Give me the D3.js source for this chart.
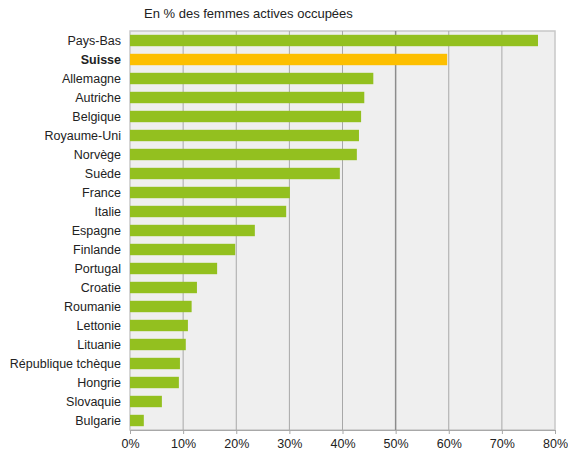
<!DOCTYPE html>
<html>
<head>
<meta charset="utf-8">
<script src="https://cdn.jsdelivr.net/npm/d3@7"></script>
<style>
  body { margin: 0; background: #fff; }
  text { font-family: "Liberation Sans", Arial, sans-serif; fill: #222; }
</style>
</head>
<body>
<div id="chart"></div>
<script>
var countries = ["Pays-Bas", "Suisse", "Allemagne", "Autriche", "Belgique", "Royaume-Uni",
  "Norvège", "Suède", "France", "Italie", "Espagne", "Finlande", "Portugal", "Croatie",
  "Roumanie", "Lettonie", "Lituanie", "République tchèque", "Hongrie", "Slovaquie", "Bulgarie"];
var values = [76.8, 59.7, 45.8, 44.1, 43.5, 43.1, 42.7, 39.5, 30.1, 29.4, 23.5, 19.8, 16.4,
  12.6, 11.6, 10.9, 10.5, 9.4, 9.2, 6.0, 2.6];
var highlight = "Suisse";
var tickValues = [0, 10, 20, 30, 40, 50, 60, 70, 80];
var title = "En % des femmes actives occupées";

var width = 568, height = 452;
var margin = { top: 31, right: 13, bottom: 22, left: 130 };

var svg = d3.select("#chart").append("svg")
  .attr("width", width)
  .attr("height", height);

var x = d3.scaleLinear()
  .domain([0, 80])
  .range([margin.left, width - margin.right]);

var y = d3.scaleBand()
  .domain(countries)
  .range([margin.top, height - margin.bottom])
  .paddingInner(0.4)
  .paddingOuter(0.2);

// plot background
svg.append("rect")
  .attr("x", x(0))
  .attr("y", margin.top)
  .attr("width", x(80) - x(0))
  .attr("height", height - margin.bottom - margin.top)
  .attr("fill", "#efefef")
  .attr("stroke", "#c8c8c8")
  .attr("stroke-width", 1.5);

// gridlines
svg.append("g")
  .selectAll("line")
  .data(tickValues.slice(1, -1))
  .enter()
  .append("line")
    .attr("x1", function(d) { return x(d); })
    .attr("x2", function(d) { return x(d); })
    .attr("y1", margin.top)
    .attr("y2", height - margin.bottom)
    .attr("stroke", function(d) { return d === 50 ? "#8c8c8c" : "#a8a8a8"; })
    .attr("stroke-width", function(d) { return d === 50 ? 1.5 : 1; });

// bars
svg.append("g")
  .selectAll("rect")
  .data(countries)
  .enter()
  .append("rect")
    .attr("x", x(0))
    .attr("y", function(d) { return y(d); })
    .attr("width", function(d, i) { return x(values[i]) - x(0); })
    .attr("height", y.bandwidth())
    .attr("fill", function(d) { return d === highlight ? "#fdbf00" : "#93c01f"; });

// category labels
var yAxis = svg.append("g")
  .attr("transform", "translate(" + (x(0) - 9) + ",0)")
  .call(d3.axisLeft(y).tickSize(0).tickPadding(0));
yAxis.select(".domain").remove();
yAxis.selectAll("text")
  .style("font-size", "12.5px")
  .style("font-weight", function(d) { return d === highlight ? "bold" : "normal"; });

// x axis
var xAxis = svg.append("g")
  .attr("transform", "translate(0," + (height - margin.bottom) + ")")
  .call(d3.axisBottom(x)
    .tickValues(tickValues)
    .tickSize(4)
    .tickPadding(5)
    .tickFormat(function(d) { return d + "%"; }));
xAxis.select(".domain").attr("stroke", "#a8a8a8");
xAxis.selectAll(".tick line").attr("stroke", "#a8a8a8");
xAxis.selectAll("text").style("font-size", "12.5px");

svg.append("text")
  .attr("x", 144)
  .attr("y", 18)
  .style("font-size", "13px")
  .text(title);
</script>
</body>
</html>
